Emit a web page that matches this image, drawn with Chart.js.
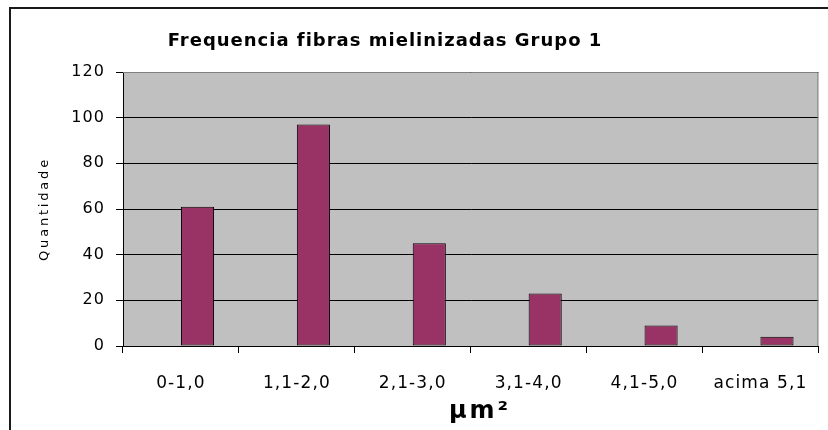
<!DOCTYPE html>
<html>
<head>
<meta charset="utf-8">
<title>Frequencia fibras mielinizadas Grupo 1</title>
<script src="https://cdn.jsdelivr.net/npm/chart.js@4/dist/chart.umd.min.js"></script>
<style>
  html, body { margin: 0; padding: 0; background: #ffffff; }
  canvas { display: block; }
</style>
</head>
<body>
<canvas id="c" width="828" height="430"></canvas>
<script>
// Size classes of myelinated fibres (µm²)
const categories = ["0-1,0", "1,1-2,0", "2,1-3,0", "3,1-4,0", "4,1-5,0", "acima 5,1"];
// First series of the sheet is empty; it still reserves its slot in each group
const serieVazia = [null, null, null, null, null, null];
// Fibre counts per size class
const quantidade = [61, 97, 45, 23, 9, 4];
// Value axis ticks
const yMin = 0;
const yMax = 120;
const yStep = 20;

const chartTitle = "Frequencia fibras mielinizadas Grupo 1";
const yTitle = "Quantidade";
const xTitle = "µm²";

const FONT = "'DejaVu Sans', Arial, sans-serif";
const TICK_SPACING = '1.1px';

const decor = {
  id: 'decor',
  beforeUpdate(chart) {
    chart.ctx.letterSpacing = TICK_SPACING;
  },
  beforeDraw(chart) {
    const ctx = chart.ctx;
    const a = chart.chartArea;
    ctx.save();
    ctx.fillStyle = '#ffffff';
    ctx.fillRect(0, 0, chart.width, chart.height);
    // outer frame of the chart object
    ctx.strokeStyle = '#1a1a1a';
    ctx.lineWidth = 2;
    ctx.beginPath();
    ctx.moveTo(10, chart.height);
    ctx.lineTo(10, 8);
    ctx.lineTo(chart.width, 8);
    ctx.stroke();
    // plot area fill
    ctx.fillStyle = '#c0c0c0';
    ctx.fillRect(a.left, a.top, a.right - a.left, a.bottom - a.top);
    ctx.restore();
    chart.ctx.letterSpacing = TICK_SPACING;
  },
  afterDraw(chart) {
    const ctx = chart.ctx;
    const a = chart.chartArea;
    ctx.save();
    // plot area frame (top and right)
    ctx.strokeStyle = '#808080';
    ctx.lineWidth = 1;
    ctx.beginPath();
    ctx.moveTo(a.left, a.top + 0.5);
    ctx.lineTo(a.right - 0.5, a.top + 0.5);
    ctx.lineTo(a.right - 0.5, a.bottom);
    ctx.stroke();

    ctx.fillStyle = '#000000';
    // chart title
    ctx.letterSpacing = '1px';
    ctx.font = "bold 18px " + FONT;
    ctx.textAlign = 'center';
    ctx.textBaseline = 'alphabetic';
    ctx.fillText(chartTitle, 385, 46);

    // x axis title
    ctx.letterSpacing = '3px';
    ctx.font = "bold 24px " + FONT;
    ctx.fillText(xTitle, 480, 418);

    // y axis title
    ctx.letterSpacing = '2.8px';
    ctx.font = "13px " + FONT;
    ctx.translate(45, (a.top + a.bottom) / 2);
    ctx.rotate(-Math.PI / 2);
    ctx.textBaseline = 'middle';
    ctx.fillText(yTitle, 0, 0);
    ctx.restore();
  }
};

new Chart(document.getElementById('c'), {
  type: 'bar',
  data: {
    labels: categories,
    datasets: [
      {
        label: 'Série1',
        data: serieVazia,
        backgroundColor: '#9999ff',
        borderColor: '#000000',
        borderWidth: 1
      },
      {
        label: 'Série2',
        data: quantidade,
        backgroundColor: '#993366',
        borderColor: '#000000',
        borderWidth: 1,
        borderSkipped: false
      }
    ]
  },
  options: {
    responsive: false,
    devicePixelRatio: 1,
    animation: false,
    events: [],
    categoryPercentage: 2 / 3.5,
    barPercentage: 1,
    layout: { padding: { top: 72, right: 8, left: 0, bottom: 0 } },
    plugins: {
      legend: { display: false },
      title: { display: false },
      tooltip: { enabled: false }
    },
    scales: {
      x: {
        offset: true,
        afterFit(s) { s.height = 84; },
        grid: {
          display: true,
          drawOnChartArea: false,
          drawTicks: true,
          tickLength: 7,
          color: '#000000',
          lineWidth: 1
        },
        border: { display: true, color: '#000000', width: 1 },
        ticks: {
          color: '#000000',
          font: { family: FONT, size: 17 },
          padding: 20,
          maxRotation: 0,
          autoSkip: false
        }
      },
      y: {
        min: yMin,
        max: yMax,
        afterFit(s) { s.width = 123; },
        grid: {
          display: true,
          drawOnChartArea: true,
          drawTicks: true,
          tickLength: 7,
          color: '#000000',
          lineWidth: 1
        },
        border: { display: true, color: '#000000', width: 1 },
        ticks: {
          stepSize: yStep,
          color: '#000000',
          font: { family: FONT, size: 16 },
          padding: 11
        }
      }
    }
  },
  plugins: [decor]
});
</script>
</body>
</html>
